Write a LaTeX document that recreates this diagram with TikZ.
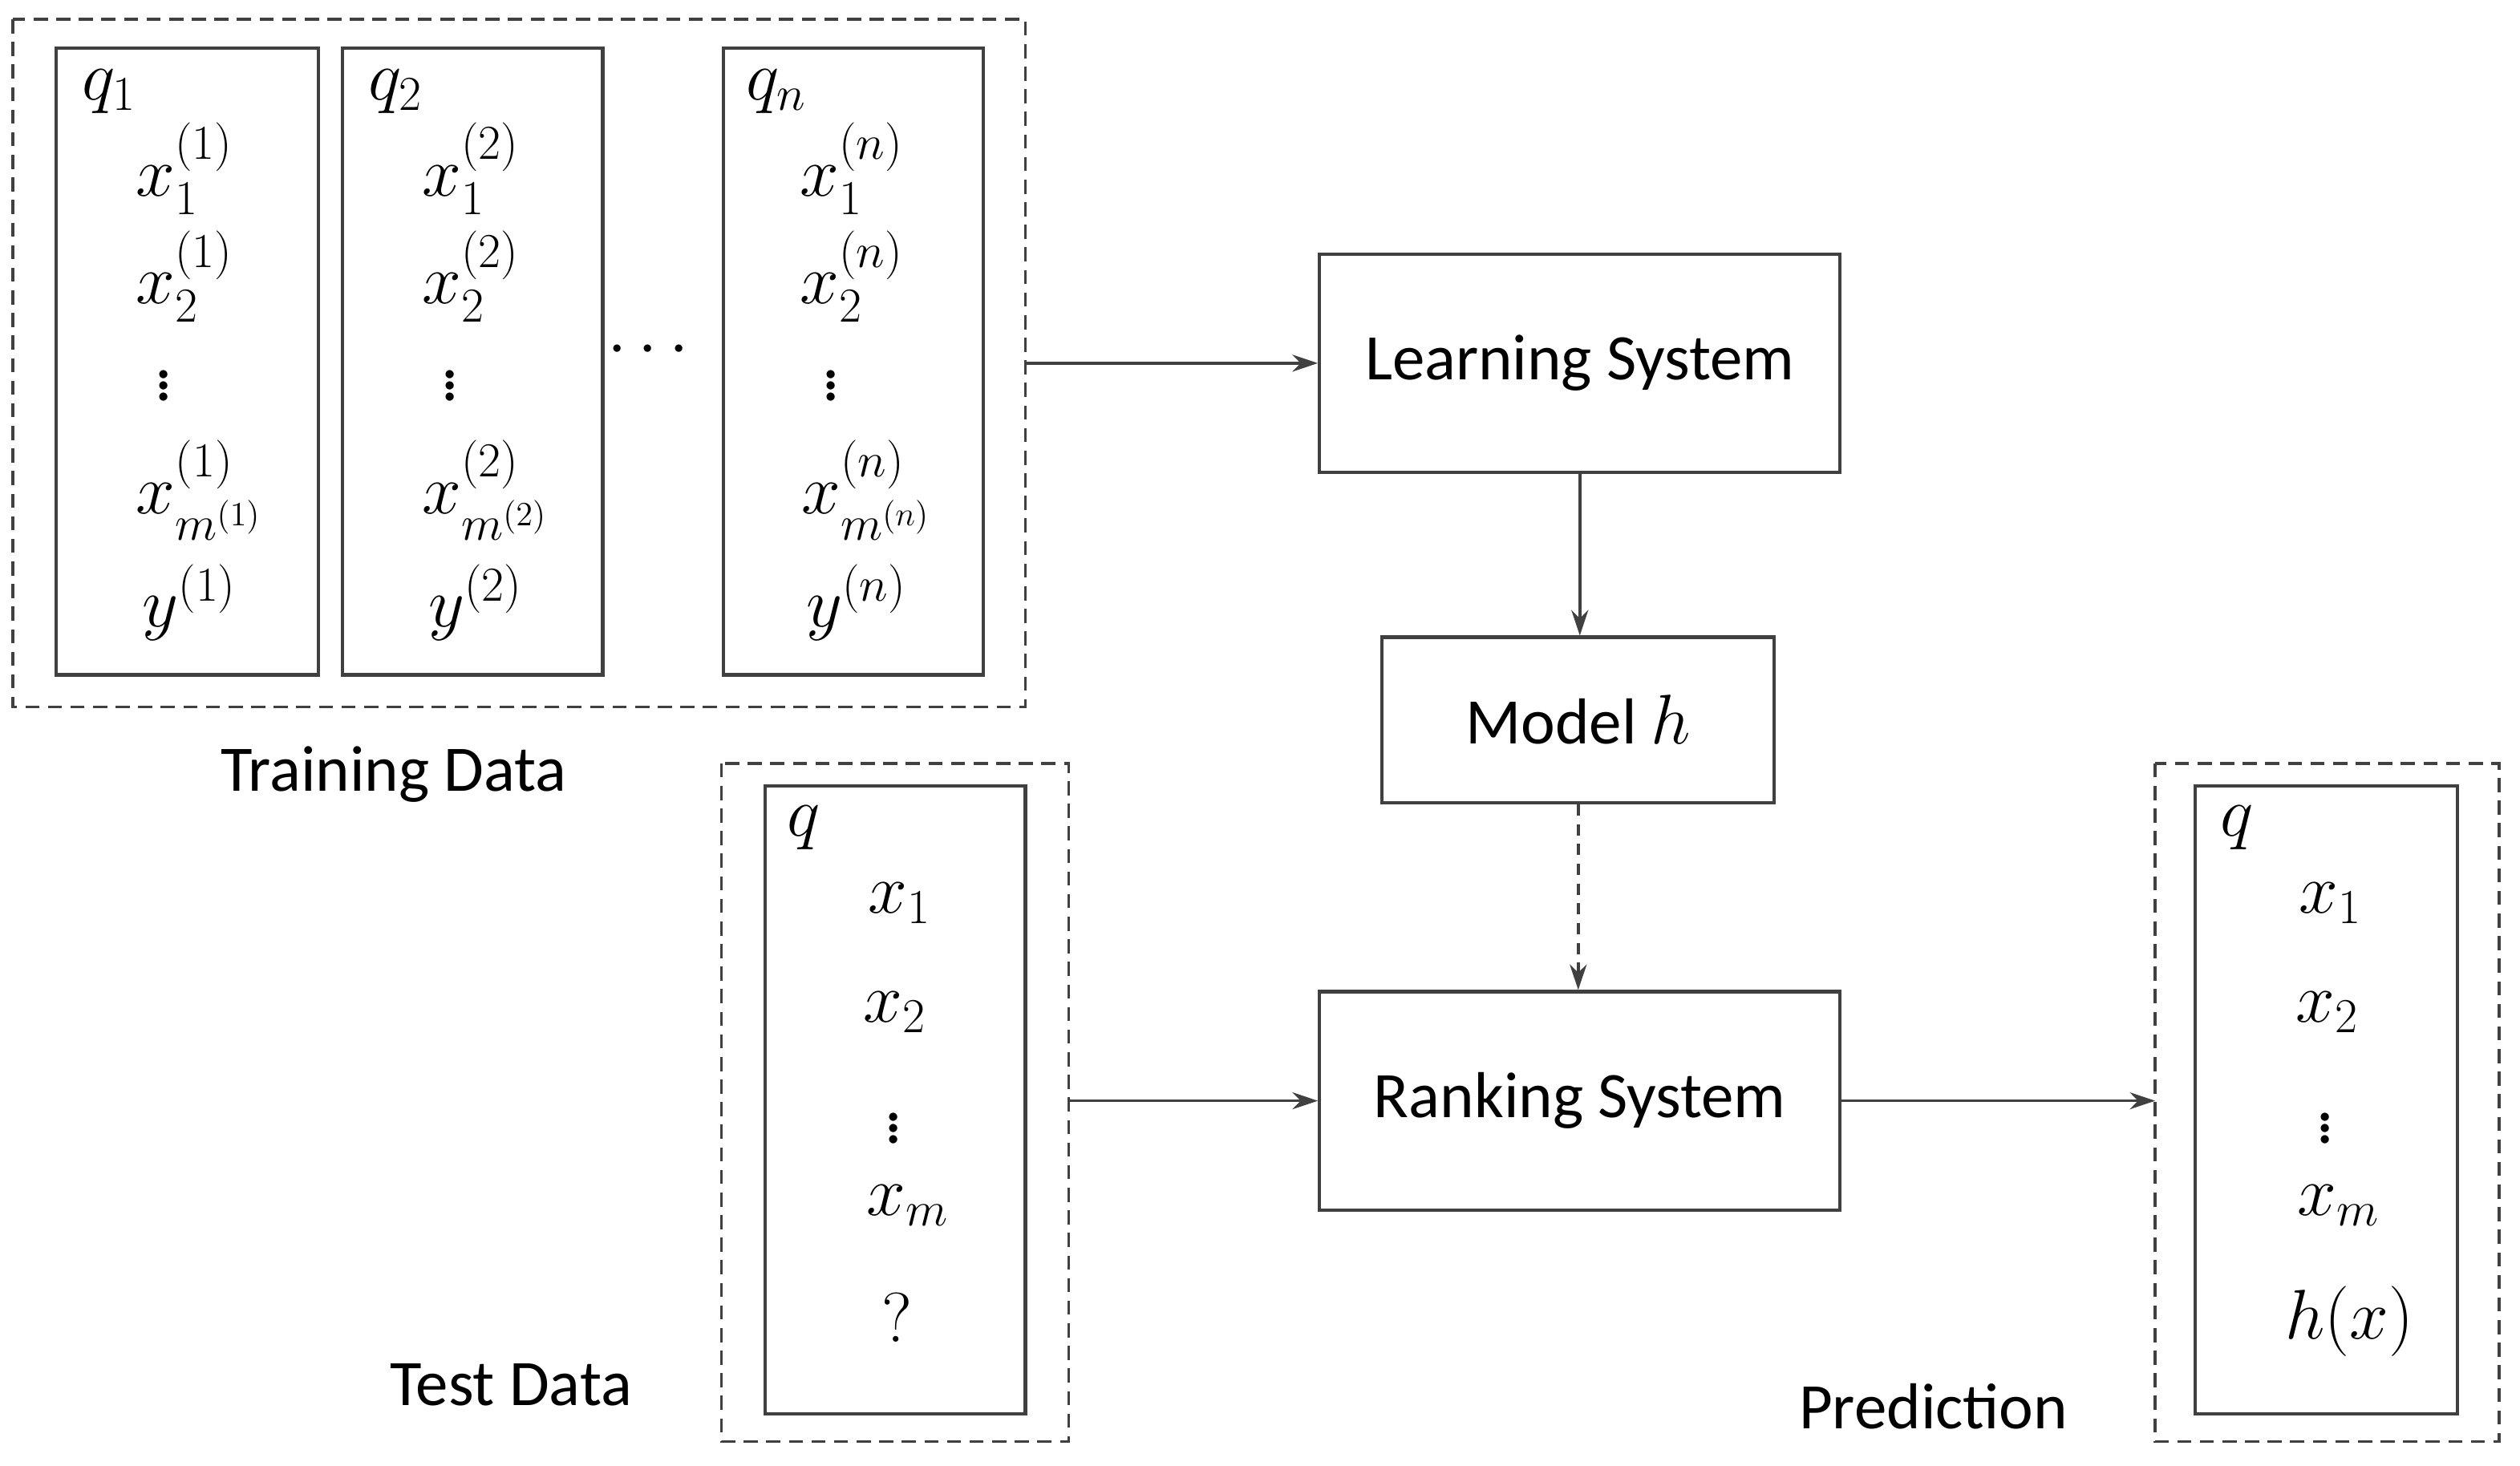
\documentclass[tikz,border=0pt]{standalone}
\usepackage{fontspec}
\setmainfont{Carlito}
\usepackage{amsmath}
\usetikzlibrary{arrows.meta}
\begin{document}
\begin{tikzpicture}[x=0.02cm,y=-0.02cm,
  box/.style={draw=black!75,line width=1.2pt},
  dbox/.style={draw=black!75,line width=1pt,dash pattern=on 5pt off 3pt},
  arr/.style={draw=black!75,line width=1pt,-{Stealth[length=9pt,width=6pt]}},
  lab/.style={font=\fontsize{23}{27}\selectfont},
  m/.style={font=\fontsize{24}{28}\selectfont,inner sep=0pt}]
\useasboundingbox (0,0) rectangle (1568,912);
\fill[white] (0,0) rectangle (1568,912);
% training
\draw[dbox] (8,12) rectangle (638,440);
\draw[box] (35,30) rectangle (198,420);
\draw[box] (213,30) rectangle (375,420);
\draw[box] (450,30) rectangle (612,420);
\foreach \dx/\k/\s in {0/1/1,178/2/2,415/n/n}{
  \node[m] at (68+\dx,57) {$q_{\s}$};
  \node[m] at (115+\dx,105) {$x_1^{(\k)}$};
  \node[m] at (115+\dx,172) {$x_2^{(\k)}$};
  \node[m] at (102+\dx,235) {$\vdots$};
  \node[m] at (124+\dx,305) {$x_{m^{(\k)}}^{(\k)}$};
  \node[m] at (118+\dx,375) {$y^{(\k)}$};
}
\node[m] at (407,218) {$\cdots$};
\coordinate (tr) at (638,226);
\node[lab] at (245,482) {Training Data};
% systems
\node[box,lab,minimum width=6.48cm,minimum height=2.72cm] (ls) at (983,226) {Learning System};
\node[box,lab,minimum width=4.88cm,minimum height=2.06cm] (mh) at (982,448) {Model $h$};
\node[box,lab,minimum width=6.48cm,minimum height=2.72cm] (rs) at (983,685) {Ranking System};
% test
\draw[dbox] (449,475) rectangle (665,897);
\draw[box] (476,489) rectangle (638,880);
\node[m] at (500,515) {$q$};
\node[m] at (560,562) {$x_1$};
\node[m] at (557,630) {$x_2$};
\node[m] at (556,697) {$\vdots$};
\node[m] at (565,750) {$x_m$};
\node[m] at (558,820) {$?$};
\node[lab] at (318,862) {Test Data};
\coordinate (te) at (665,685);
% prediction
\draw[dbox] (1341,475) rectangle (1555,897);
\draw[box] (1366,489) rectangle (1529,880);
\node[m] at (1392,515) {$q$};
\node[m] at (1450,562) {$x_1$};
\node[m] at (1448,630) {$x_2$};
\node[m] at (1447,697) {$\vdots$};
\node[m] at (1455,750) {$x_m$};
\node[m] at (1462,822) {$h(x)$};
\node[lab] at (1203,875) {Prediction};
\coordinate (pr) at (1341,685);
% arrows
\draw[arr] (tr) -- (ls.west|-tr);
\draw[arr] (ls.south) -- (ls.south|-mh.north);
\draw[arr,dash pattern=on 4pt off 3pt] (mh.south) -- (mh.south|-rs.north);
\draw[arr] (te) -- (rs.west|-te);
\draw[arr] (rs.east|-pr) -- (pr);
\end{tikzpicture}
\end{document}
